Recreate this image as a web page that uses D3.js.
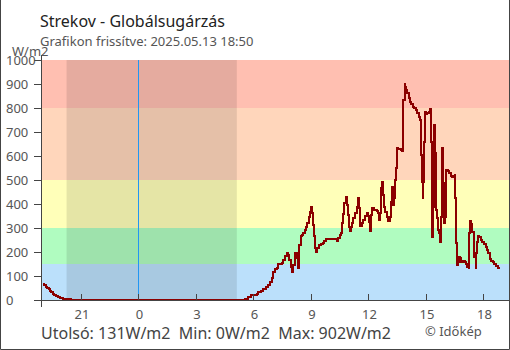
<!DOCTYPE html>
<html>
<head>
<meta charset="utf-8">
<script src="https://cdn.jsdelivr.net/npm/d3@7"></script>
<style>
  html, body { margin: 0; padding: 0; background: #fff; }
  svg { display: block; font-family: "Noto Sans", "Open Sans", sans-serif; }
</style>
</head>
<body>
<svg id="chart" width="510" height="350"></svg>
<script>
// Station and chart texts
const stationTitle = "Strekov - Globálsugárzás";
const updatedText = "Grafikon frissítve: 2025.05.13 18:50";
const unitLabel = "W/m2";
const creditText = "© Időkép";

// Time window shown (previous evening to current evening)
const windowStart = "2025-05-12 18:55";
const windowEnd = "2025-05-13 19:20";
const nightStart = "2025-05-12 20:15";
const nightEnd = "2025-05-13 05:08";
const midnight = "2025-05-13 00:00";

// Radiation bands (W/m2) and their fill colours
const bandEdges = [0, 150, 300, 500, 800, 1000];
const bandColors = ["#bbe0fb", "#b0fcc0", "#ffffb9", "#ffd6bb", "#ffbfb1"];

// Axis ticks
const yTicks = [0, 100, 200, 300, 400, 500, 600, 700, 800, 900, 1000];
const xTickHours = ["2025-05-12 21:00", "2025-05-13 00:00", "2025-05-13 03:00", "2025-05-13 06:00",
                    "2025-05-13 09:00", "2025-05-13 12:00", "2025-05-13 15:00", "2025-05-13 18:00"];

// Measurements: clock time (day starts 2025-05-12, rolls over at midnight) and W/m2
const times = [
  "19:00","19:04","19:10","19:14","19:19","19:23","19:27","19:31","19:35","19:42","19:49","19:56",
  "20:03","20:08","20:28",
  "05:08","05:33","05:44","05:51","06:02","06:10","06:15","06:23","06:31","06:39","06:47","06:52",
  "06:57","07:02","07:08","07:13","07:18","07:29","07:33","07:39","07:44","07:49","07:52","07:57",
  "08:00","08:05","08:10","08:15","08:20","08:24","08:28","08:31","08:36","08:41","08:45","08:49",
  "08:53","08:57","09:01","09:04","09:07","09:10","09:13","09:16","09:20","09:24","09:31","09:37",
  "09:42","09:46","10:16","10:21","10:26","10:31","10:35","10:38","10:41","10:45","10:49","10:52",
  "10:55","10:58","11:02","11:05","11:09","11:13","11:18","11:23","11:28","11:31","11:34","11:39",
  "11:44","11:49","11:55","11:59","12:02","12:05","12:08","12:11","12:18","12:26","12:31","12:33",
  "12:36","12:40","12:44","12:47","12:50","12:53","12:57","13:01","13:06","13:10","13:13","13:16",
  "13:18","13:20","13:23","13:26","13:29","13:34","13:41","13:46","13:47","13:49","13:53","13:56",
  "13:59","14:02","14:06","14:10","14:14","14:19","14:24","14:29","14:33","14:38","14:41","14:44",
  "14:46","14:48","14:50","14:52","14:54","14:57","15:00","15:04","15:09","15:13","15:16","15:18",
  "15:20","15:22","15:24","15:26","15:29","15:31","15:33","15:36","15:39","15:42","15:44","15:47",
  "15:50","15:51","15:54","15:56","15:58","16:00","16:02","16:04","16:09","16:13","16:17","16:21",
  "16:26","16:30","16:32","16:34","16:37","16:40","16:44","16:47","16:50","16:57","17:03","17:06",
  "17:10","17:15","17:16","17:19","17:22","17:25","17:29","17:32","17:36","17:38","17:41","17:44",
  "17:47","17:52","17:57","18:02","18:07","18:11","18:14","18:19","18:25","18:29","18:34","18:40",
  "18:44","18:50"
];
const values = [
  65,61,56,51,46,39,32,26,21,15,12,10,
  4,3,0,
  1,5,14,19,22,26,32,39,46,56,62,74,
  90,118,128,135,149,153,167,183,197,188,167,139,
  118,146,194,174,132,229,267,271,280,292,306,322,
  347,368,389,361,313,267,215,201,215,229,233,239,
  246,253,254,246,257,271,280,319,358,403,431,396,
  354,306,289,306,319,340,361,389,424,382,308,319,
  333,350,364,350,326,289,354,382,375,371,361,333,
  361,465,493,438,389,368,347,329,347,410,472,458,
  396,424,500,549,635,629,625,621,688,833,902,889,
  875,861,840,826,815,806,799,792,778,764,750,715,
  604,493,424,493,660,785,774,778,785,796,660,389,
  264,389,653,729,611,500,375,340,292,278,243,347,
  556,632,486,375,319,347,472,542,538,531,517,511,
  517,521,424,236,146,160,181,174,160,163,160,150,
  139,132,278,330,317,285,243,181,132,194,243,267,
  261,250,243,233,222,208,194,170,164,160,150,142,
  134,131
];

const parseFull = d3.timeParse("%Y-%m-%d %H:%M");

// Build dated series: start on the previous day, move to the next day when the clock wraps
const series = [];
{
  let day = parseFull("2025-05-12 00:00");
  let prevMinutes = -1;
  times.forEach((t, i) => {
    const [h, m] = t.split(":").map(Number);
    const mins = h * 60 + m;
    if (mins < prevMinutes) day = d3.timeDay.offset(day, 1);
    prevMinutes = mins;
    series.push({ date: new Date(day.getTime() + mins * 60000), value: values[i] });
  });
}

const svg = d3.select("#chart");
const plot = { left: 41, right: 509, top: 60, bottom: 300 };

const x = d3.scaleTime()
  .domain([parseFull(windowStart), parseFull(windowEnd)])
  .range([plot.left, plot.right]);
const y = d3.scaleLinear()
  .domain([0, 1000])
  .range([plot.bottom, plot.top]);

// Coloured radiation bands
svg.append("g").selectAll("rect")
  .data(bandColors)
  .join("rect")
  .attr("x", plot.left)
  .attr("width", plot.right - plot.left)
  .attr("y", (c, i) => y(bandEdges[i + 1]))
  .attr("height", (c, i) => y(bandEdges[i]) - y(bandEdges[i + 1]))
  .attr("fill", c => c);

// Night shading
svg.append("rect")
  .attr("x", x(parseFull(nightStart)))
  .attr("width", x(parseFull(nightEnd)) - x(parseFull(nightStart)))
  .attr("y", plot.top)
  .attr("height", plot.bottom - plot.top)
  .attr("fill", "rgba(0,0,0,0.1)");

// Midnight marker
svg.append("line")
  .attr("x1", Math.round(x(parseFull(midnight))) + 0.5)
  .attr("x2", Math.round(x(parseFull(midnight))) + 0.5)
  .attr("y1", plot.top)
  .attr("y2", plot.bottom)
  .attr("stroke", "#2196f3")
  .attr("stroke-width", 1);

// Measurement line
const line = d3.line()
  .x(d => x(d.date))
  .y(d => y(d.value))
  .curve(d3.curveStepAfter);

svg.append("path")
  .datum(series)
  .attr("d", line)
  .attr("fill", "none")
  .attr("stroke", "#8b0000")
  .attr("stroke-width", 2)
  .attr("stroke-linejoin", "miter")
  .attr("shape-rendering", "crispEdges");

// Axes
const axisColor = "#444";
const labelColor = "#555";

// y axis line and ticks
svg.append("line")
  .attr("x1", plot.left + 0.5).attr("x2", plot.left + 0.5)
  .attr("y1", plot.top - 5).attr("y2", plot.bottom + 7)
  .attr("stroke", axisColor);

const yAxis = svg.append("g");
yAxis.selectAll("line")
  .data(yTicks)
  .join("line")
  .attr("x1", plot.left - 7).attr("x2", plot.left)
  .attr("y1", d => Math.round(y(d)) + 0.5)
  .attr("y2", d => Math.round(y(d)) + 0.5)
  .attr("stroke", axisColor);
yAxis.selectAll("text")
  .data(yTicks)
  .join("text")
  .attr("x", 6)
  .attr("y", d => y(d) + 4.5)
  .attr("font-size", 13)
  .attr("fill", labelColor)
  .text(d => d);

// x axis line, ticks and hour labels
svg.append("line")
  .attr("x1", plot.left - 7).attr("x2", plot.right)
  .attr("y1", plot.bottom + 0.5).attr("y2", plot.bottom + 0.5)
  .attr("stroke", axisColor);

const hourFmt = d3.timeFormat("%-H");
const xAxis = svg.append("g");
const xTickDates = xTickHours.map(parseFull);
xAxis.selectAll("line")
  .data(xTickDates)
  .join("line")
  .attr("x1", d => Math.round(x(d)) + 0.5)
  .attr("x2", d => Math.round(x(d)) + 0.5)
  .attr("y1", plot.bottom - 6)
  .attr("y2", plot.bottom)
  .attr("stroke", axisColor);
xAxis.selectAll("text")
  .data(xTickDates)
  .join("text")
  .attr("x", d => x(d) + 1)
  .attr("y", 319)
  .attr("text-anchor", "middle")
  .attr("font-size", 13)
  .attr("fill", labelColor)
  .text(d => hourFmt(d));

// Unit label
svg.append("text")
  .attr("x", 12).attr("y", 56)
  .attr("font-size", 13)
  .attr("fill", labelColor)
  .text(unitLabel);

// Titles
svg.append("text")
  .attr("x", 40).attr("y", 27)
  .attr("font-size", 16)
  .attr("fill", "#222")
  .text(stationTitle);
svg.append("text")
  .attr("x", 40).attr("y", 46)
  .attr("font-size", 13)
  .attr("fill", labelColor)
  .text(updatedText);

// Summary line from the series
const last = series[series.length - 1].value;
const minV = d3.min(series, d => d.value);
const maxV = d3.max(series, d => d.value);
svg.append("text")
  .attr("x", 41).attr("y", 339)
  .attr("font-size", 16)
  .attr("fill", "#444")
  .style("white-space", "pre")
  .text(`Utolsó: ${last}W/m2  Min: ${minV}W/m2  Max: ${maxV}W/m2`);

svg.append("text")
  .attr("x", 425).attr("y", 336)
  .attr("font-size", 13)
  .attr("fill", labelColor)
  .text(creditText);

// Frame
svg.append("path")
  .attr("d", "M0.5,0 V349.5 H509.5 V0")
  .attr("fill", "none")
  .attr("stroke", axisColor);
</script>
</body>
</html>
